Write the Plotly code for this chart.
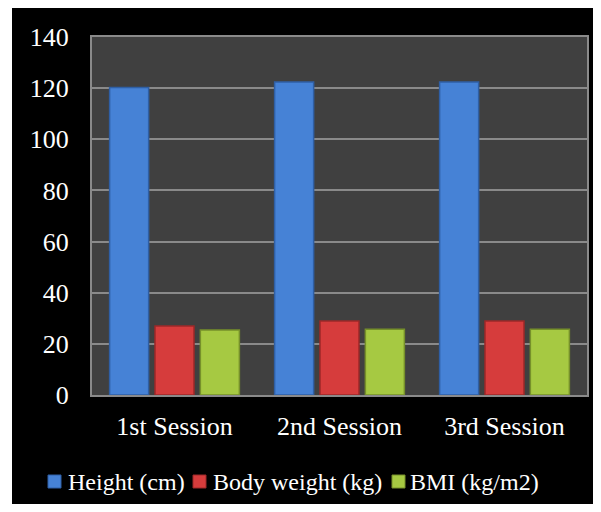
import plotly.graph_objects as go

categories = ["1st Session", "2nd Session", "3rd Session"]
height_cm = [120.3, 122.4, 122.4]
body_weight_kg = [27.0, 28.9, 28.9]
bmi = [25.4, 25.7, 25.7]
series_names = ["Height (cm)", "Body weight (kg)", "BMI (kg/m2)"]
y_ticks = [0, 20, 40, 60, 80, 100, 120, 140]

colors = ["#4682d6", "#d63c3c", "#a6c942"]
edge_colors = ["#2f5fa5", "#9c2828", "#76902a"]

# page body has an 8px margin; figure sized to fill the rest of the window
OFF = 8
W, H = 593, 496
L, R, T, B = 84, 14, 29, 109
PW, PH = W - L - R, H - T - B


def px_x(p):  # p in window pixels
    return (p - OFF - L) / PW


def px_y(p):
    return (H - B - (p - OFF)) / PH


FONT = "Liberation Serif, Times New Roman, serif"

fig = go.Figure()
for name, vals, c, ec in zip(series_names, [height_cm, body_weight_kg, bmi], colors, edge_colors):
    fig.add_trace(go.Bar(
        x=categories, y=vals, name=name,
        marker=dict(color=c, line=dict(color=ec, width=1.5)),
        showlegend=False,
    ))

shapes = [
    # white outer margin strip on the left
    dict(type="rect", xref="paper", yref="paper", x0=px_x(OFF), x1=px_x(12), y0=px_y(520), y1=px_y(0),
         fillcolor="white", line=dict(width=0), layer="below"),
]
annotations = []
legend_sq_x = [48, 193, 392]
legend_txt_x = [66, 211, 408]
for i, name in enumerate(series_names):
    shapes.append(dict(type="rect", xref="paper", yref="paper",
                       x0=px_x(legend_sq_x[i]), x1=px_x(legend_sq_x[i] + 13),
                       y0=px_y(488), y1=px_y(475),
                       fillcolor=colors[i], line=dict(color=edge_colors[i], width=1)))
    annotations.append(dict(text=name, xref="paper", yref="paper",
                            x=px_x(legend_txt_x[i]), y=px_y(482),
                            xanchor="left", yanchor="middle", showarrow=False,
                            font=dict(family=FONT, size=24, color="white")))

fig.update_layout(
    width=W, height=H,
    margin=dict(l=L, r=R, t=T, b=B),
    paper_bgcolor="black",
    plot_bgcolor="#404040",
    barmode="group",
    bargap=0.175,
    bargroupgap=0.14,
    font=dict(family=FONT, size=24, color="white"),
    shapes=shapes,
    annotations=annotations,
    xaxis=dict(
        showgrid=False, showline=True, linecolor="#8a8a8a", linewidth=2, mirror=True,
        ticks="", ticklabelstandoff=7,
        tickfont=dict(family=FONT, size=26, color="white"),
    ),
    yaxis=dict(
        range=[0, 140], tickvals=y_ticks, showgrid=True, gridcolor="#8a8a8a", gridwidth=2,
        showline=True, linecolor="#8a8a8a", linewidth=2, mirror=True,
        zeroline=False, ticks="", ticklabelstandoff=16,
        tickfont=dict(family=FONT, size=26, color="white"),
    ),
)

fig.write_html("out.html")
